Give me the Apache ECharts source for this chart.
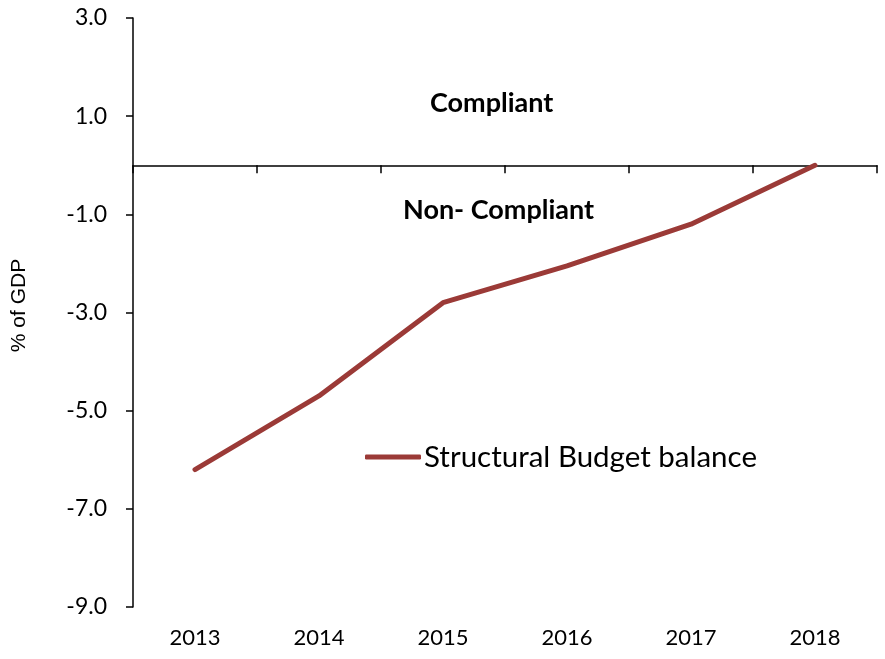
<!DOCTYPE html>
<html>
<head>
<meta charset="utf-8">
<script src="https://cdn.jsdelivr.net/npm/echarts@6/dist/echarts.min.js"></script>
<style>html,body{margin:0;padding:0;background:#fff;}#c{width:885px;height:659px;}</style>
</head>
<body>
<div id="c"></div>
<script>
var years = ['2013', '2014', '2015', '2016', '2017', '2018'];
var structuralBalance = [-6.2, -4.7, -2.8, -2.05, -1.2, 0.0];
var seriesName = 'Structural Budget balance';
var yAxisTitle = '% of GDP';
var zoneUpper = 'Compliant';
var zoneLower = 'Non- Compliant';

var FONT = 'Lato, "Open Sans", sans-serif';
var chart = echarts.init(document.getElementById('c'), null, {renderer: 'canvas'});
chart.setOption({
  animation: false,
  backgroundColor: '#fff',
  grid: {left: 133, right: 8, top: 18, bottom: 52},
  legend: {
    left: 365, top: 442, padding: 0,
    itemWidth: 56, itemHeight: 5, itemGap: 4,
    icon: 'roundRect',
    data: [seriesName],
    textStyle: {fontSize: 29.5, fontFamily: FONT, color: '#000', padding: [0,0,0,-2]}
  },
  xAxis: [{
    type: 'category', data: years, boundaryGap: true,
    axisLine: {onZero: true, lineStyle: {color: '#000', width: 1.5}},
    axisTick: {show: true, length: 8, lineStyle: {color: '#000', width: 1.5}},
    axisLabel: {show: false}, splitLine: {show: false}
  }, {
    type: 'category', data: years, boundaryGap: true, position: 'bottom',
    axisLine: {show: false, onZero: false}, axisTick: {show: false},
    axisLabel: {show: true, margin: 20, fontSize: 22, fontFamily: FONT, color: '#000'},
    splitLine: {show: false}
  }],
  yAxis: {
    type: 'value', min: -9, max: 3, interval: 2,
    name: yAxisTitle, nameLocation: 'middle', nameGap: 103, nameRotate: 90,
    nameTextStyle: {fontSize: 21, fontFamily: '"Liberation Sans", Arial, sans-serif', color: '#000',
      padding: [0, 0, 0, 14]},
    axisLine: {show: true, lineStyle: {color: '#000', width: 1.5}},
    axisTick: {show: true, length: 7, lineStyle: {color: '#000', width: 1.5}},
    axisLabel: {fontSize: 23, fontFamily: FONT, color: '#000', margin: 26,
      formatter: function (v) { return v.toFixed(1); }},
    splitLine: {show: false}
  },
  graphic: [
    {type: 'text', left: 430, top: 90, style: {text: zoneUpper, font: 'bold 27px ' + FONT, fill: '#000'}},
    {type: 'text', left: 403, top: 197, style: {text: zoneLower, font: 'bold 27px ' + FONT, fill: '#000'}}
  ],
  series: [{
    name: seriesName, type: 'line', data: structuralBalance,
    xAxisIndex: 0, symbol: 'none',
    lineStyle: {color: '#9B3A37', width: 5, cap: 'round', join: 'round'},
    itemStyle: {color: '#9B3A37'}
  }]
});
</script>
</body>
</html>
